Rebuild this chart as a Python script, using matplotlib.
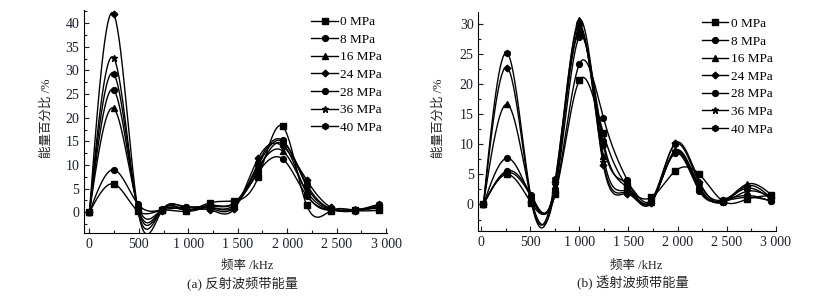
import numpy as np
import matplotlib.pyplot as plt
from matplotlib.ticker import MultipleLocator, FuncFormatter

plt.rcParams['font.family'] = ['Liberation Serif', 'Noto Sans CJK SC']

labels = ['0 MPa', '8 MPa', '16 MPa', '24 MPa', '28 MPa', '36 MPa', '40 MPa']
markers = ['s', 'o', '^', 'D', 'o', '*', 'h']
msizes = [3.8, 4.2, 4.2, 3.4, 4.2, 5.0, 4.4]

# reflected wave (a)
freq_a = [0, 244, 488, 732, 977, 1221, 1465, 1709, 1953, 2197, 2441, 2686, 2930]
refl_0 = [0, 6.0, 0.3, 0.4, 0.2, 2.0, 2.4, 7.5, 18.2, 1.5, 0.3, 0.4, 0.4]
refl_8 = [0, 9.0, 1.8, 0.5, 1.0, 1.0, 1.5, 8.5, 11.3, 3.5, 0.5, 0.3, 1.2]
refl_16 = [0, 22.0, 1.5, 0.5, 0.5, 1.5, 2.0, 9.5, 13.0, 4.5, 0.6, 0.4, 1.0]
refl_24 = [0, 42.0, 0.8, 0.3, 0.8, 0.5, 0.7, 11.5, 14.0, 6.8, 1.0, 0.3, 1.5]
refl_28 = [0, 25.9, 1.2, 0.6, 1.2, 0.8, 1.0, 10.5, 15.2, 5.5, 0.8, 0.5, 1.0]
refl_36 = [0, 32.7, 0.5, 0.4, 0.3, 1.2, 1.8, 9.0, 14.5, 4.0, 0.4, 0.6, 0.8]
refl_40 = [0, 29.3, 1.0, 0.5, 0.6, 1.0, 1.2, 10.0, 15.0, 6.0, 0.7, 0.4, 1.7]

# transmitted wave (b)
freq_b = [25, 269, 513, 757, 1001, 1245, 1489, 1733, 1978, 2222, 2466, 2710, 2954]
trans_0 = [0, 5.0, 0.2, 1.8, 20.6, 11.8, 3.0, 1.2, 5.6, 5.0, 0.5, 0.9, 1.5]
trans_8 = [0, 7.7, 1.0, 2.0, 23.3, 14.4, 4.0, 0.5, 8.7, 2.5, 0.6, 1.2, 0.6]
trans_16 = [0, 16.6, 0.8, 3.0, 30.7, 8.0, 2.2, 0.4, 9.0, 3.0, 0.5, 3.4, 1.6]
trans_24 = [0, 22.7, 0.4, 3.8, 29.8, 6.5, 1.8, 0.3, 10.2, 3.8, 0.4, 3.1, 1.0]
trans_28 = [0, 5.6, 1.5, 2.5, 27.8, 10.5, 2.8, 0.6, 8.5, 2.2, 0.7, 1.5, 0.5]
trans_36 = [0, 5.3, 1.2, 3.3, 29.2, 7.0, 2.0, 0.4, 8.8, 2.8, 0.4, 2.2, 1.2]
trans_40 = [0, 25.1, 0.8, 4.3, 28.5, 9.8, 3.5, 0.8, 10.0, 3.5, 0.8, 2.7, 0.8]


def smooth(x, y, n=400):
    # natural cubic spline, only used to draw the connecting curve
    x = np.asarray(x, float)
    y = np.asarray(y, float)
    m = len(x)
    h = np.diff(x)
    A = np.zeros((m, m))
    r = np.zeros(m)
    A[0, 0] = 1
    A[-1, -1] = 1
    for i in range(1, m - 1):
        A[i, i - 1] = h[i - 1]
        A[i, i] = 2 * (h[i - 1] + h[i])
        A[i, i + 1] = h[i]
        r[i] = 6 * ((y[i + 1] - y[i]) / h[i] - (y[i] - y[i - 1]) / h[i - 1])
    M = np.linalg.solve(A, r)
    xs = np.linspace(x[0], x[-1], n)
    idx = np.clip(np.searchsorted(x, xs) - 1, 0, m - 2)
    x0, x1 = x[idx], x[idx + 1]
    hh = x1 - x0
    a = (x1 - xs) / hh
    b = (xs - x0) / hh
    ys = a * y[idx] + b * y[idx + 1] + ((a**3 - a) * M[idx] + (b**3 - b) * M[idx + 1]) * hh**2 / 6
    return xs, ys


fmt = FuncFormatter(lambda v, p: '{:,.0f}'.format(v).replace(',', ' '))


def draw(ax, freq, series, ylim, xlim):
    handles = []
    for y, lab, mk, ms in zip(series, labels, markers, msizes):
        xs, ys = smooth(freq, y)
        ax.plot(xs, ys, color='black', lw=1.0)
        ax.plot(freq, y, ls='none', marker=mk, ms=ms, color='black')
        h, = ax.plot([], [], color='black', lw=1.0, marker=mk, ms=ms, label=lab)
        handles.append(h)
    ax.set_xlim(*xlim)
    ax.set_ylim(*ylim)
    ax.spines['top'].set_visible(False)
    ax.spines['right'].set_visible(False)
    ax.spines['left'].set_linewidth(0.8)
    ax.spines['bottom'].set_linewidth(0.8)
    ax.xaxis.set_major_locator(MultipleLocator(500))
    ax.xaxis.set_minor_locator(MultipleLocator(250))
    ax.yaxis.set_major_locator(MultipleLocator(5))
    ax.yaxis.set_minor_locator(MultipleLocator(2.5))
    ax.xaxis.set_major_formatter(fmt)
    ax.tick_params(which='both', direction='in', labelsize=10, width=0.8, colors='#1c1c2c')
    ax.tick_params(which='major', length=3.5)
    ax.tick_params(which='minor', length=2)
    ax.legend(handles=handles, loc='upper left', bbox_to_anchor=(0.72, 1.015), frameon=False,
              fontsize=9.5, handlelength=2.0, handletextpad=0.2, labelspacing=0.41,
              borderpad=0.2, numpoints=1)


fig = plt.figure(figsize=(8.36, 2.97), dpi=100)
W, H = 836, 297
ax1 = fig.add_axes([84 / W, 1 - 233 / H, 303 / W, 223 / H])
ax2 = fig.add_axes([478.5 / W, 1 - 231 / H, 297.5 / W, 219.3 / H])

draw(ax1, freq_a, [refl_0, refl_8, refl_16, refl_24, refl_28, refl_36, refl_40],
     (-4.4, 42.8), (-55, 3010))
draw(ax2, freq_b, [trans_0, trans_8, trans_16, trans_24, trans_28, trans_36, trans_40],
     (-4.4, 32.0), (-25, 3000))

tc = '#222222'
fig.text(46.7 / W, 1 - 118 / H, '能量百分比 /%', rotation=90, ha='center', va='center', fontsize=9, color=tc)
fig.text(438.3 / W, 1 - 118 / H, '能量百分比 /%', rotation=90, ha='center', va='center', fontsize=9, color=tc)
fig.text(246.7 / W, 1 - 265.5 / H, '频率 /kHz', ha='center', va='center', fontsize=9, color=tc)
fig.text(636 / W, 1 - 265.5 / H, '频率 /kHz', ha='center', va='center', fontsize=9, color=tc)
fig.text(243 / W, 1 - 283 / H, '(a) 反射波频带能量', ha='center', va='center', fontsize=9.5, color=tc)
fig.text(633 / W, 1 - 283 / H, '(b) 透射波频带能量', ha='center', va='center', fontsize=9.5, color=tc)

fig.savefig('out.png', dpi=100)
